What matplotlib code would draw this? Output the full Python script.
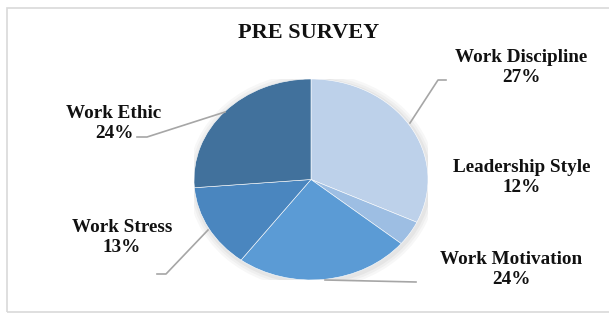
import matplotlib.pyplot as plt
from matplotlib.patches import Rectangle, Ellipse

# slice sizes as drawn in the reference, and the percentages printed on the labels
categories = ['Work Discipline', 'Leadership Style', 'Work Motivation',
              'Work Stress', 'Work Ethic']
slice_sizes = [32, 4, 24.2, 13.5, 26.3]
label_pcts = ['27%', '12%', '24%', '13%', '24%']
colors = ['#BDD1EA', '#9DBEE3', '#5B9BD5', '#4A86BF', '#41719C']

W, H = 609, 314
fig = plt.figure(figsize=(W / 100, H / 100), dpi=100)
fig.patch.set_facecolor('white')

# light chart border (right side runs off the picture)
fig.patches.append(Rectangle((7 / W, 1 - 312 / H), 1.2, (312 - 8) / H,
                             transform=fig.transFigure, fill=False,
                             edgecolor='#D9D9D9', linewidth=1.2))

# pie axes placed on the ellipse bounds (stretched, not equal aspect)
px0, px1, py0, py1 = 194, 428, 79, 280
ax = fig.add_axes([px0 / W, 1 - py1 / H, (px1 - px0) / W, (py1 - py0) / H])

# soft shadow
for i, a in enumerate([0.03, 0.03, 0.04]):
    ax.add_patch(Ellipse((0.01, -0.015), 2 + 0.04 * (3 - i), 2 + 0.05 * (3 - i),
                         facecolor='black', edgecolor='none', alpha=a, zorder=0))

wedges, _ = ax.pie(slice_sizes, colors=colors, startangle=90, counterclock=False,
                   wedgeprops=dict(edgecolor='white', linewidth=0.4))
for w in wedges:
    w.set_zorder(2)
ax.set_aspect('auto')
ax.set_xlim(-1, 1)
ax.set_ylim(-1, 1)
ax.axis('off')

# overlay axes in pixel coordinates for title, labels and leader lines
ov = fig.add_axes([0, 0, 1, 1], facecolor='none')
ov.set_xlim(0, W)
ov.set_ylim(H, 0)
ov.axis('off')

font = dict(family=['Liberation Serif', 'DejaVu Serif'], fontweight='bold', color='#111111')
ov.text(309, 33, 'PRE SURVEY', ha='center', va='center', fontsize=16, **font)

label_pos = [(521, 57), (522, 168), (511, 259), (122, 227), (114, 113)]
for name, pct, (x, y) in zip(categories, label_pcts, label_pos):
    ov.text(x, y, name, ha='center', va='center', fontsize=13.8, **font)
    ov.text(x, y + 20, pct, ha='center', va='center', fontsize=13.8, **font)

lc = dict(color='#A6A6A6', linewidth=1.2)
ov.plot([410, 438, 446], [123, 80, 80], **lc)
ov.plot([325, 416], [280, 282], **lc)
ov.plot([225, 147, 137], [112, 137, 137], **lc)
ov.plot([208, 166, 157], [230, 274, 274], **lc)

fig.savefig('out.png', dpi=100)
